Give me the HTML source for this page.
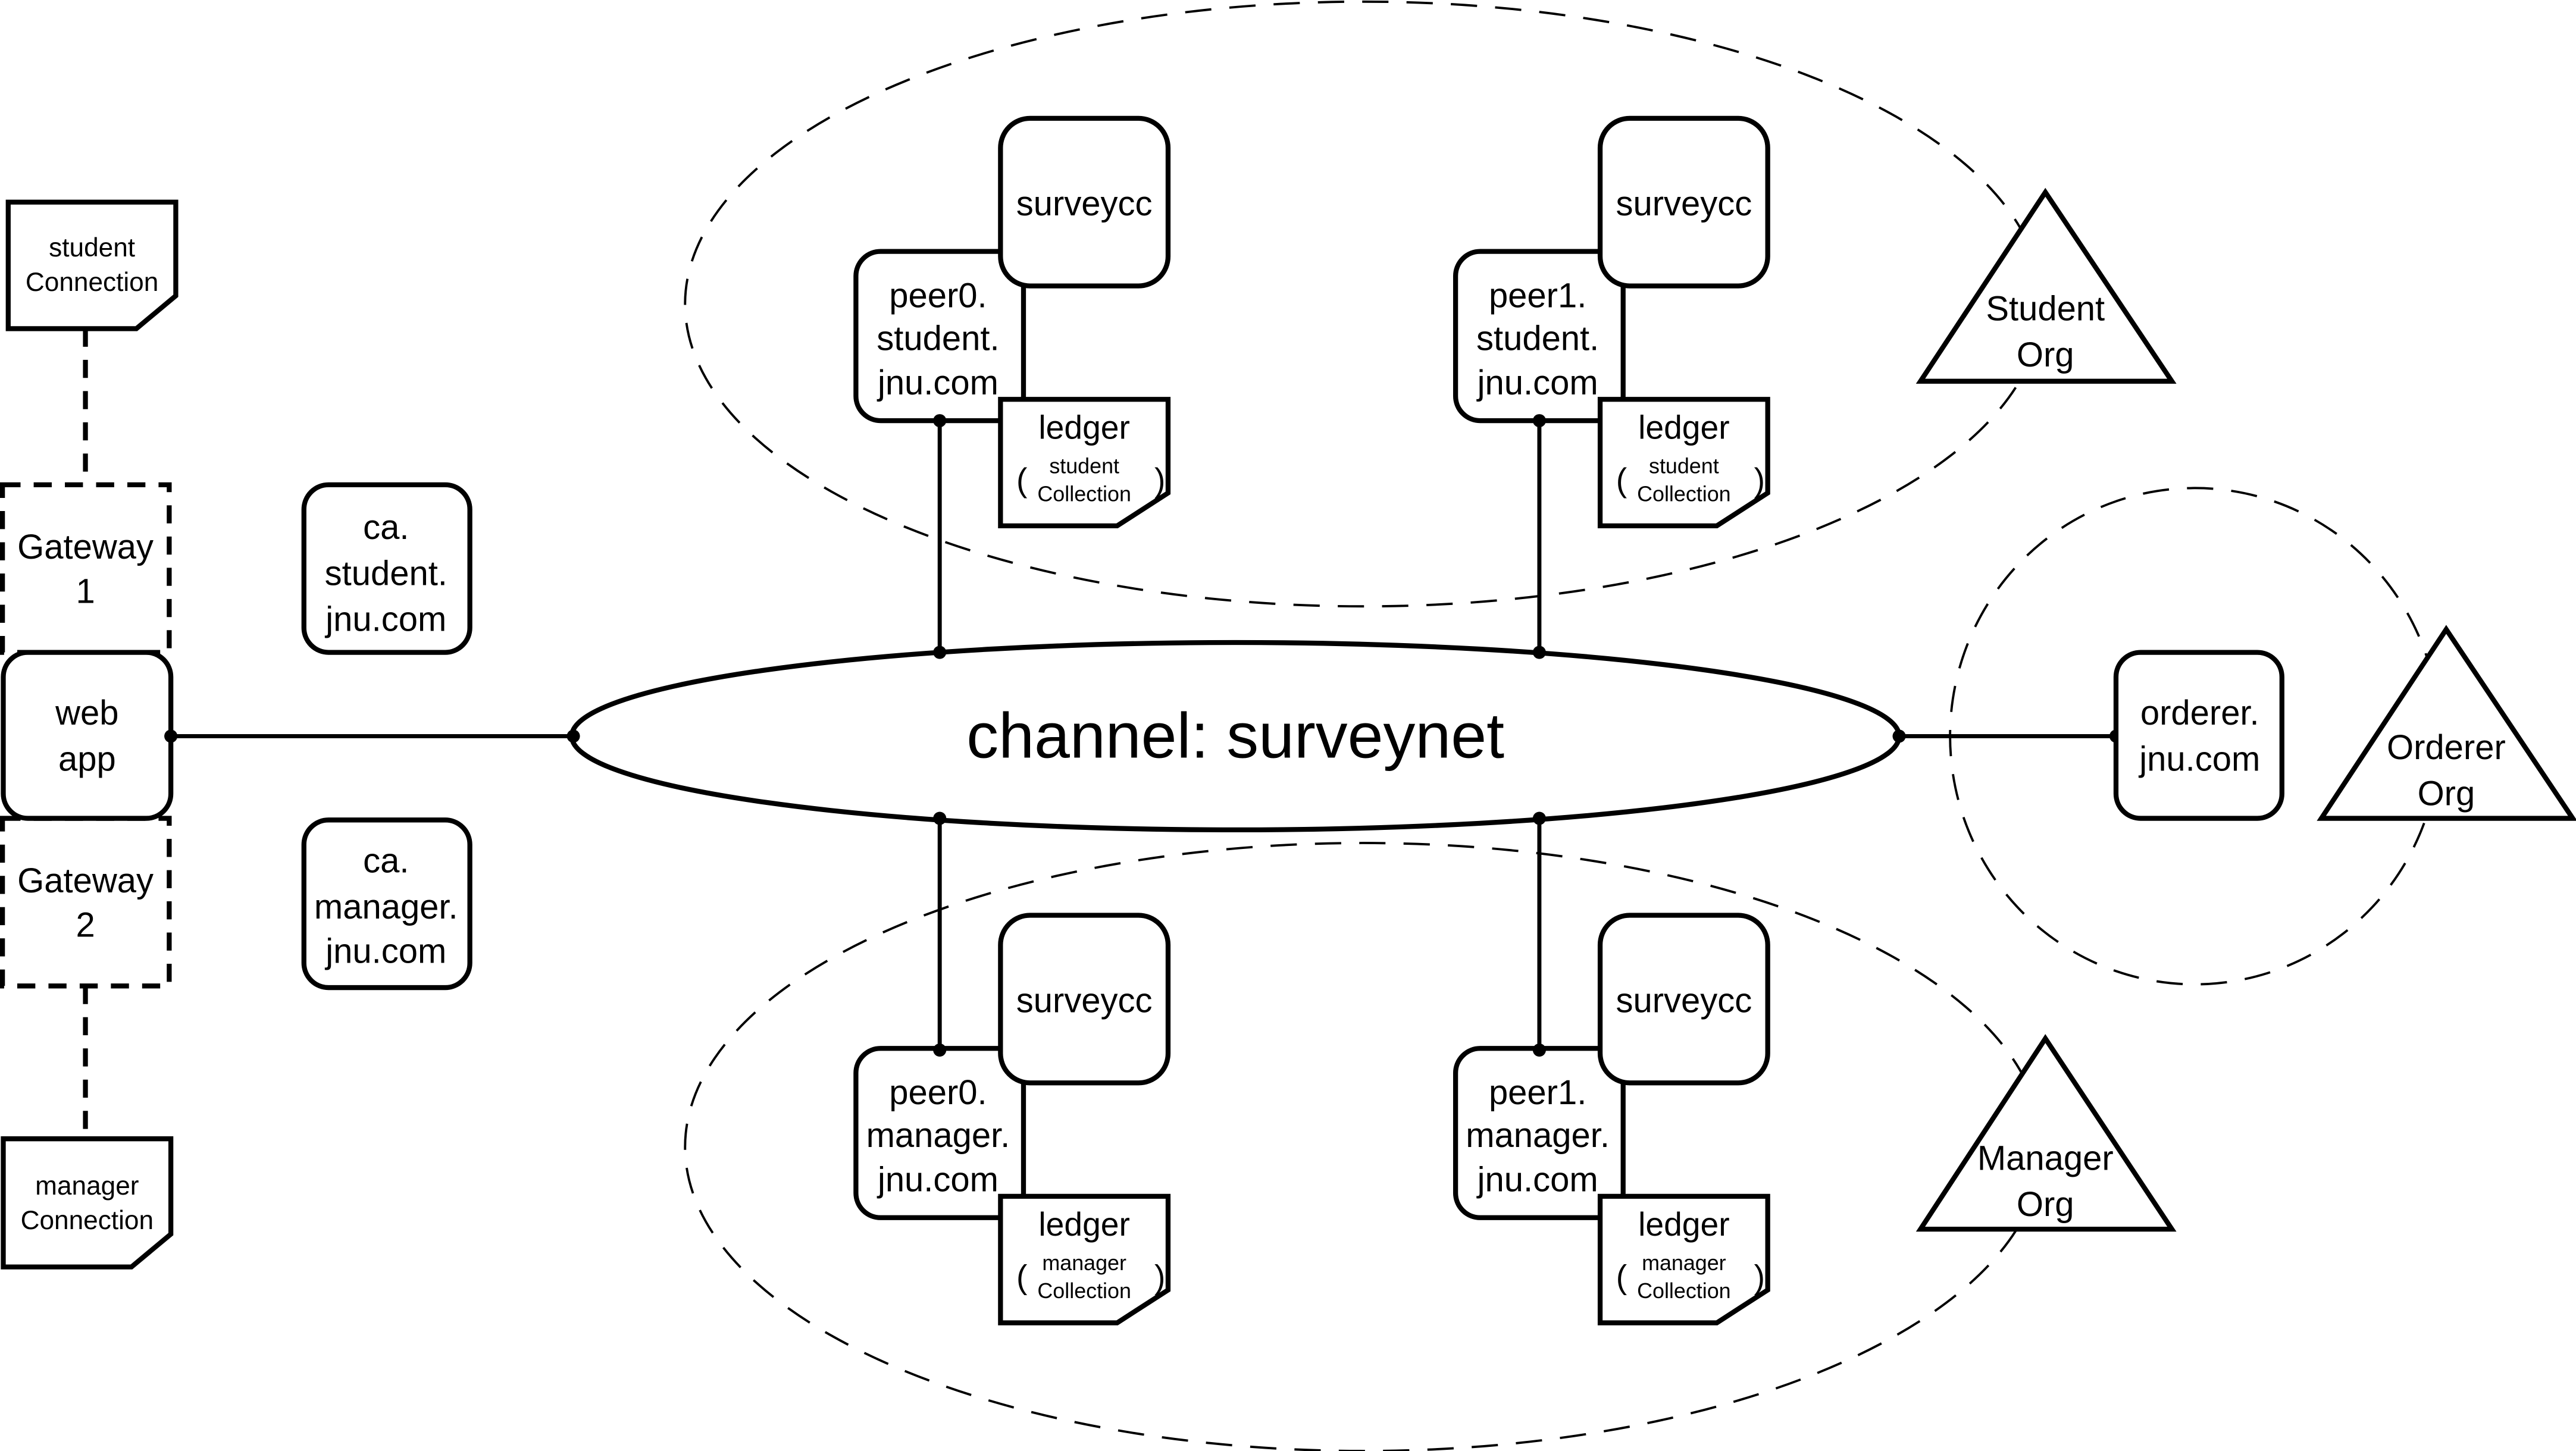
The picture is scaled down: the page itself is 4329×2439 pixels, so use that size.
<!DOCTYPE html>
<html><head><meta charset="utf-8"><style>html,body{margin:0;padding:0;background:#fff}svg{display:block}text{font-family:"Liberation Sans",sans-serif;fill:#000;text-anchor:middle}</style></head>
<body>
<svg width="4329" height="2439" viewBox="0 0 1568 883" preserveAspectRatio="none" xmlns="http://www.w3.org/2000/svg">
<defs>
<g id="peer">
  <rect x="521" y="153" width="102" height="103" rx="15" fill="#fff" stroke="#000" stroke-width="3"/>
  <rect x="609" y="72" width="102" height="102" rx="18" fill="#fff" stroke="#000" stroke-width="3"/>
  <path d="M609 243 H711 V300 L680 320 H609 Z" fill="#fff" stroke="#000" stroke-width="3"/>
  <text x="660" y="131" font-size="21">surveycc</text>
  <text x="660" y="267" font-size="20">ledger</text>
  <text x="660" y="305" font-size="13">Collection</text>
  <text x="622" y="299" font-size="20">(</text>
  <text x="706" y="299" font-size="20">)</text>
</g>
</defs>
<g fill="none" stroke="#000" stroke-width="1.4" stroke-dasharray="16 11">
  <ellipse cx="830" cy="185" rx="413" ry="184"/>
  <ellipse cx="830" cy="698" rx="413" ry="185"/>
  <ellipse cx="1336" cy="448" rx="149" ry="151"/>
</g>
<!-- left column -->
<path d="M5 123 H107 V180 L83 200 H5 Z" fill="#fff" stroke="#000" stroke-width="3"/>
<text x="56" y="156" font-size="16">student</text>
<text x="56" y="177" font-size="16">Connection</text>
<path d="M2 693 H104 V751 L80 771 H2 Z" fill="#fff" stroke="#000" stroke-width="3"/>
<text x="53" y="727" font-size="16">manager</text>
<text x="53" y="748" font-size="16">Connection</text>
<g stroke="#000" stroke-width="3" stroke-dasharray="11 8" fill="none">
  <line x1="52" y1="200" x2="52" y2="295"/>
  <line x1="52" y1="600" x2="52" y2="693"/>
  <rect x="1.5" y="295" width="101.5" height="102"/>
  <rect x="1.5" y="498" width="101.5" height="102"/>
</g>
<text x="52" y="340" font-size="21">Gateway</text>
<text x="52" y="367" font-size="21">1</text>
<text x="52" y="543" font-size="21">Gateway</text>
<text x="52" y="570" font-size="21">2</text>
<rect x="2" y="397" width="102" height="101" rx="15" fill="#fff" stroke="#000" stroke-width="3"/>
<text x="53" y="441" font-size="21">web</text>
<text x="53" y="469" font-size="21">app</text>
<rect x="185" y="295" width="101" height="102" rx="15" fill="#fff" stroke="#000" stroke-width="3"/>
<text x="235" y="328" font-size="21">ca.</text>
<text x="235" y="356" font-size="21">student.</text>
<text x="235" y="384" font-size="21">jnu.com</text>
<rect x="185" y="499" width="101" height="102" rx="15" fill="#fff" stroke="#000" stroke-width="3"/>
<text x="235" y="531" font-size="21">ca.</text>
<text x="235" y="559" font-size="21">manager.</text>
<text x="235" y="586" font-size="21">jnu.com</text>
<!-- connectors -->
<g stroke="#000" stroke-width="2.5">
  <line x1="104" y1="448" x2="349" y2="448"/>
  <line x1="1156" y1="448" x2="1288" y2="448"/>
  <line x1="572" y1="256" x2="572" y2="397"/>
  <line x1="937" y1="256" x2="937" y2="397"/>
  <line x1="572" y1="498" x2="572" y2="639"/>
  <line x1="937" y1="498" x2="937" y2="639"/>
</g>
<ellipse cx="752" cy="448" rx="404" ry="57" fill="#fff" stroke="#000" stroke-width="3"/>
<text x="752" y="461" font-size="39">channel: surveynet</text>
<!-- peers -->
<use href="#peer"/>
<use href="#peer" transform="translate(365,0)"/>
<use href="#peer" transform="translate(0,485)"/>
<use href="#peer" transform="translate(365,485)"/>
<g font-size="21">
  <text x="571" y="187">peer0.</text><text x="571" y="213">student.</text><text x="571" y="240">jnu.com</text>
  <text x="936" y="187">peer1.</text><text x="936" y="213">student.</text><text x="936" y="240">jnu.com</text>
  <text x="571" y="672">peer0.</text><text x="571" y="698">manager.</text><text x="571" y="725">jnu.com</text>
  <text x="936" y="672">peer1.</text><text x="936" y="698">manager.</text><text x="936" y="725">jnu.com</text>
</g>
<g font-size="13">
  <text x="660" y="288">student</text><text x="1025" y="288">student</text>
  <text x="660" y="773">manager</text><text x="1025" y="773">manager</text>
</g>
<g fill="#000">
  <circle cx="104" cy="448" r="4"/><circle cx="349" cy="448" r="4"/>
  <circle cx="1156" cy="448" r="4"/><circle cx="1288" cy="448" r="4"/>
  <circle cx="572" cy="256" r="4"/><circle cx="572" cy="397" r="4"/>
  <circle cx="937" cy="256" r="4"/><circle cx="937" cy="397" r="4"/>
  <circle cx="572" cy="498" r="4"/><circle cx="572" cy="639" r="4"/>
  <circle cx="937" cy="498" r="4"/><circle cx="937" cy="639" r="4"/>
</g>
<!-- orderer -->
<rect x="1288" y="397" width="101" height="101" rx="15" fill="#fff" stroke="#000" stroke-width="3"/>
<text x="1339" y="441" font-size="21">orderer.</text>
<text x="1339" y="469" font-size="21">jnu.com</text>
<!-- triangles -->
<g fill="#fff" stroke="#000" stroke-width="3">
  <path d="M1245 117 L1322 232 H1169 Z"/>
  <path d="M1245 632 L1322 748 H1169 Z"/>
  <path d="M1489 383 L1566 498 H1413 Z"/>
</g>
<g font-size="21">
  <text x="1245" y="195">Student</text><text x="1245" y="223">Org</text>
  <text x="1245" y="712">Manager</text><text x="1245" y="740">Org</text>
  <text x="1489" y="462">Orderer</text><text x="1489" y="490">Org</text>
</g>
</svg>
</body></html>
